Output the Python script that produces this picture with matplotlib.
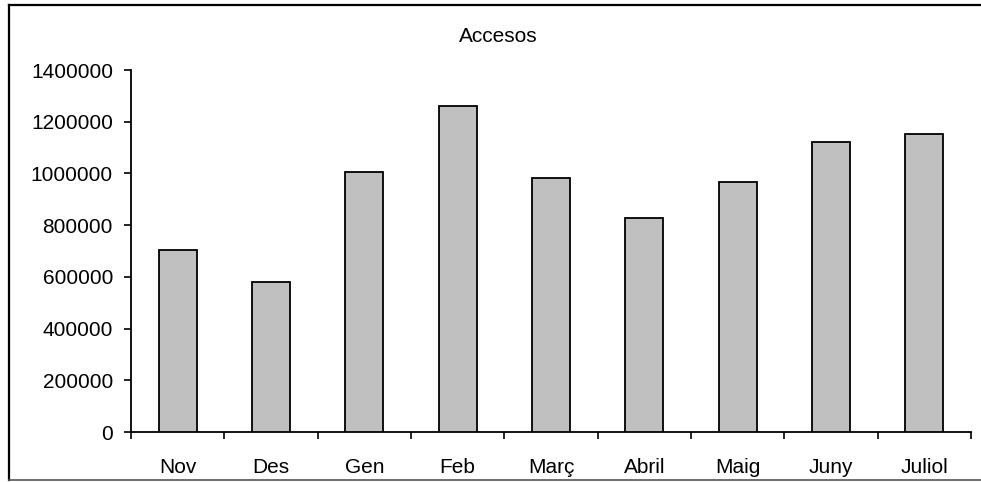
import matplotlib
matplotlib.use("Agg")
import matplotlib.pyplot as plt
from matplotlib.lines import Line2D
import numpy as np

plt.rcParams['font.family'] = ['Liberation Sans', 'DejaVu Sans']

months = ["Nov", "Des", "Gen", "Feb", "Març", "Abril", "Maig", "Juny", "Juliol"]
accesos = [704000, 579000, 1007000, 1262000, 982000, 828000, 966000, 1121000, 1154000]
y_ticks = [0, 200000, 400000, 600000, 800000, 1000000, 1200000, 1400000]
title = "Accesos"

W, H = 981, 482
fig = plt.figure(figsize=(W / 100, H / 100), dpi=100)
ax = fig.add_axes([131 / W, 1 - 432 / H, (971 - 131) / W, (432 - 70) / H])

x = np.arange(len(months))
ax.bar(x, accesos, width=0.41, color="#c0c0c0", edgecolor="black", linewidth=1.3, zorder=3)

ax.set_xlim(-0.5, len(months) - 0.5)
ax.set_ylim(0, 1400000)
ax.set_yticks(y_ticks)
ax.set_yticklabels([str(v) for v in y_ticks])

# Major ticks at category boundaries (no labels), minor ticks carry labels
ax.set_xticks(np.arange(-0.5, len(months), 1.0))
ax.set_xticklabels([])
ax.set_xticks(x, minor=True)
ax.set_xticklabels(months, minor=True)
ax.tick_params(axis="x", which="major", direction="out", length=5, width=1.2, color="black")
ax.tick_params(axis="x", which="minor", length=0, pad=19, labelsize=15)
ax.tick_params(axis="y", direction="out", length=5, width=1.2, pad=8, labelsize=15)

for s in ["top", "right"]:
    ax.spines[s].set_visible(False)
for s in ["left", "bottom"]:
    ax.spines[s].set_linewidth(1.3)
    ax.spines[s].set_color("black")

fig.text(498 / W, 1 - 36 / H, title, ha="center", va="center", fontsize=15)

# Outer chart-area border (left, top, bottom)
tf = fig.transFigure
fig.add_artist(Line2D([8.5 / W, 8.5 / W], [1 - 4.5 / H, 1 - 480 / H], transform=tf, color="black", lw=1.6))
fig.add_artist(Line2D([8.5 / W, 1.0], [1 - 4.5 / H, 1 - 4.5 / H], transform=tf, color="black", lw=1.6))
fig.add_artist(Line2D([8.5 / W, 1.0], [1 - 480 / H, 1 - 480 / H], transform=tf, color="#555555", lw=1.2))

fig.savefig("out.png", dpi=100)
